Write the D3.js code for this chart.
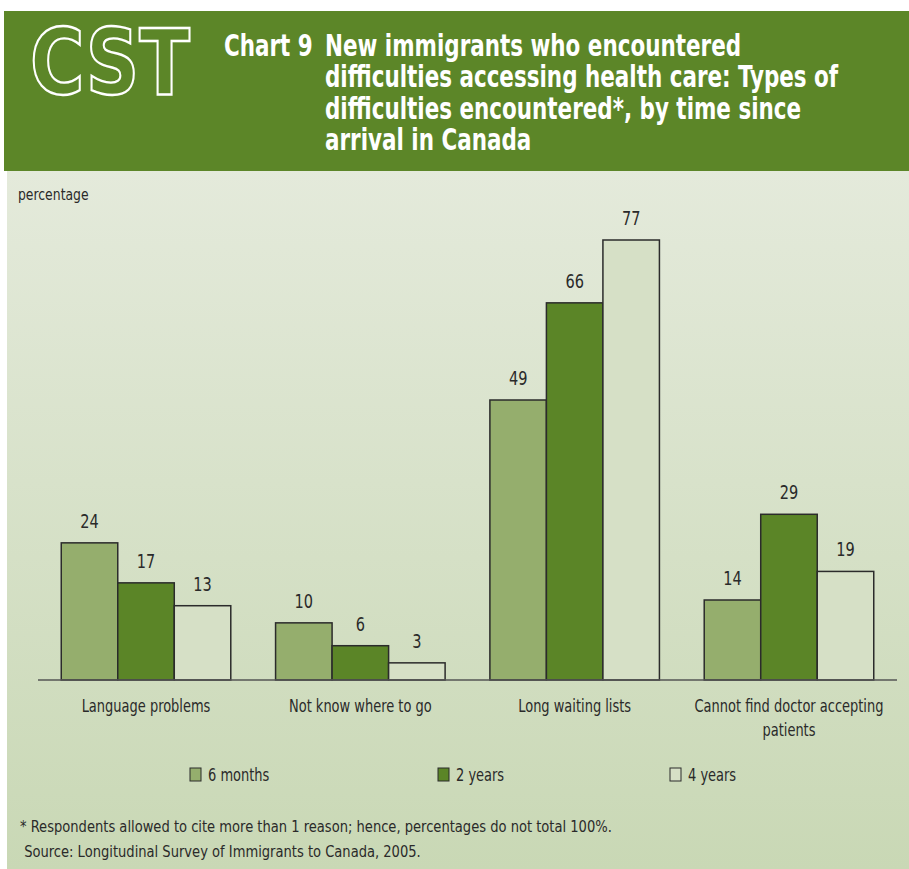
<!DOCTYPE html>
<html>
<head>
<meta charset="utf-8">
<script src="https://cdn.jsdelivr.net/npm/d3@7"></script>
<style>
  body { margin: 0; background: #fff; }
  svg text { font-family: "DejaVu Sans Condensed", "Roboto", sans-serif; }
</style>
</head>
<body>
<div id="chart"></div>
<script>
// data
var categories = ["Language problems", "Not know where to go", "Long waiting lists", "Cannot find doctor accepting patients"];
var series = ["6 months", "2 years", "4 years"];
var months6 = [24, 10, 49, 14];
var years2 = [17, 6, 66, 29];
var years4 = [13, 3, 77, 19];
var titleLines = ["New immigrants who encountered", "difficulties accessing health care: Types of", "difficulties encountered*, by time since", "arrival in Canada"];
var notes = ["* Respondents allowed to cite more than 1 reason; hence, percentages do not total 100%.", " Source: Longitudinal Survey of Immigrants to Canada, 2005."];

var colors = ["#95ae6d", "#5b8527", "#d6e0c6"];

var width = 909, height = 869;

// squeeze text horizontally (around its x) to mimic the narrow face of the original
function narrow(sel, f) {
    sel.each(function() {
        var x0 = +d3.select(this).attr("x");
        d3.select(this).attr("transform",
            "translate(" + x0 + ",0) scale(" + f + ",1) translate(" + (-x0) + ",0)");
    });
}

var svg = d3.select("#chart").append("svg")
    .attr("width", width)
    .attr("height", height);

// background gradient
var defs = svg.append("defs");
var grad = defs.append("linearGradient").attr("id", "bg")
    .attr("x1", 0).attr("y1", 0).attr("x2", 0).attr("y2", 1);
grad.append("stop").attr("offset", "0%").attr("stop-color", "#e4eadb");
grad.append("stop").attr("offset", "100%").attr("stop-color", "#c9d8b5");

svg.append("rect").attr("x", 7).attr("y", 170).attr("width", width - 7).attr("height", height - 170)
    .attr("fill", "url(#bg)");

// header
svg.append("rect").attr("x", 4).attr("y", 11).attr("width", width - 4).attr("height", 160)
    .attr("fill", "#5c8628");

svg.append("text")
    .attr("x", 30).attr("y", 94)
    .attr("textLength", 160).attr("lengthAdjust", "spacingAndGlyphs")
    .style("font-family", "'DejaVu Sans', sans-serif")
    .style("font-weight", "bold")
    .style("font-size", "90px")
    .attr("fill", "none").attr("stroke", "#fff").attr("stroke-width", 2.4)
    .text("CST");

var title = svg.append("g").attr("fill", "#fff")
    .style("font-weight", "bold").style("font-size", "31px");
title.append("text").attr("x", 224).attr("y", 56).text("Chart 9").call(narrow, 0.77);
var tl = title.selectAll(".tl").data(titleLines).enter().append("text")
    .attr("class", "tl")
    .attr("x", 325).attr("y", function(d, i) { return 56 + i * 31.5; })
    .text(function(d) { return d; });
narrow(tl, 0.77);

// chart
var y0 = 680;
var x = d3.scaleBand().domain(categories).range([38, 897]).paddingInner(0.209).paddingOuter(0.1085);
var xs = d3.scaleBand().domain(series).range([0, x.bandwidth()]);
var y = d3.scaleLinear().domain([0, 77]).range([y0, 240]);

svg.append("text").attr("x", 18).attr("y", 200)
    .style("font-size", "15px").attr("fill", "#2a2a2a").text("percentage")
    .call(narrow, 0.92);

var rows = [];
categories.forEach(function(c, i) {
    [months6, years2, years4].forEach(function(arr, j) {
        rows.push({cat: c, s: series[j], v: arr[i], col: colors[j]});
    });
});

svg.selectAll(".bar").data(rows).enter().append("rect")
    .attr("class", "bar")
    .attr("x", function(d) { return x(d.cat) + xs(d.s); })
    .attr("y", function(d) { return y(d.v); })
    .attr("width", xs.bandwidth())
    .attr("height", function(d) { return y0 - y(d.v); })
    .attr("fill", function(d) { return d.col; })
    .attr("stroke", "#2b2b2b").attr("stroke-width", 1.5);

svg.selectAll(".val").data(rows).enter().append("text")
    .attr("class", "val")
    .attr("x", function(d) { return x(d.cat) + xs(d.s) + xs.bandwidth() / 2; })
    .attr("y", function(d) { return y(d.v) - 15; })
    .attr("text-anchor", "middle")
    .style("font-size", "19px").attr("fill", "#2a2a2a")
    .text(function(d) { return d.v; })
    .call(narrow, 0.85);

// axis line
svg.append("line").attr("x1", 38).attr("x2", 897).attr("y1", y0).attr("y2", y0)
    .attr("stroke", "#555").attr("stroke-width", 1.5);

// category labels
var catLines = {"Cannot find doctor accepting patients": ["Cannot find doctor accepting", "patients"]};
categories.forEach(function(c) {
    var lines = catLines[c] || [c];
    lines.forEach(function(l, k) {
        svg.append("text")
            .attr("x", x(c) + x.bandwidth() / 2)
            .attr("y", 712 + k * 24)
            .attr("text-anchor", "middle")
            .style("font-size", "17px").attr("fill", "#2a2a2a")
            .text(l)
            .call(narrow, 0.85);
    });
});

// legend
var legX = [190, 438, 670];
var leg = svg.selectAll(".leg").data(series).enter().append("g")
    .attr("class", "leg")
    .attr("transform", function(d, i) { return "translate(" + legX[i] + ",768)"; });
leg.append("rect").attr("width", 11).attr("height", 13)
    .attr("fill", function(d, i) { return colors[i]; })
    .attr("stroke", "#2b2b2b").attr("stroke-width", 1);
leg.append("text").attr("x", 18).attr("y", 13)
    .style("font-size", "17px").attr("fill", "#2a2a2a")
    .text(function(d) { return d; })
    .call(narrow, 0.85);

// notes
notes.forEach(function(n, i) {
    svg.append("text").attr("x", 20).attr("y", 832 + i * 25)
        .attr("xml:space", "preserve")
        .style("font-size", "16px").attr("fill", "#2a2a2a")
        .text(n)
        .call(narrow, 0.91);
});
</script>
</body>
</html>
